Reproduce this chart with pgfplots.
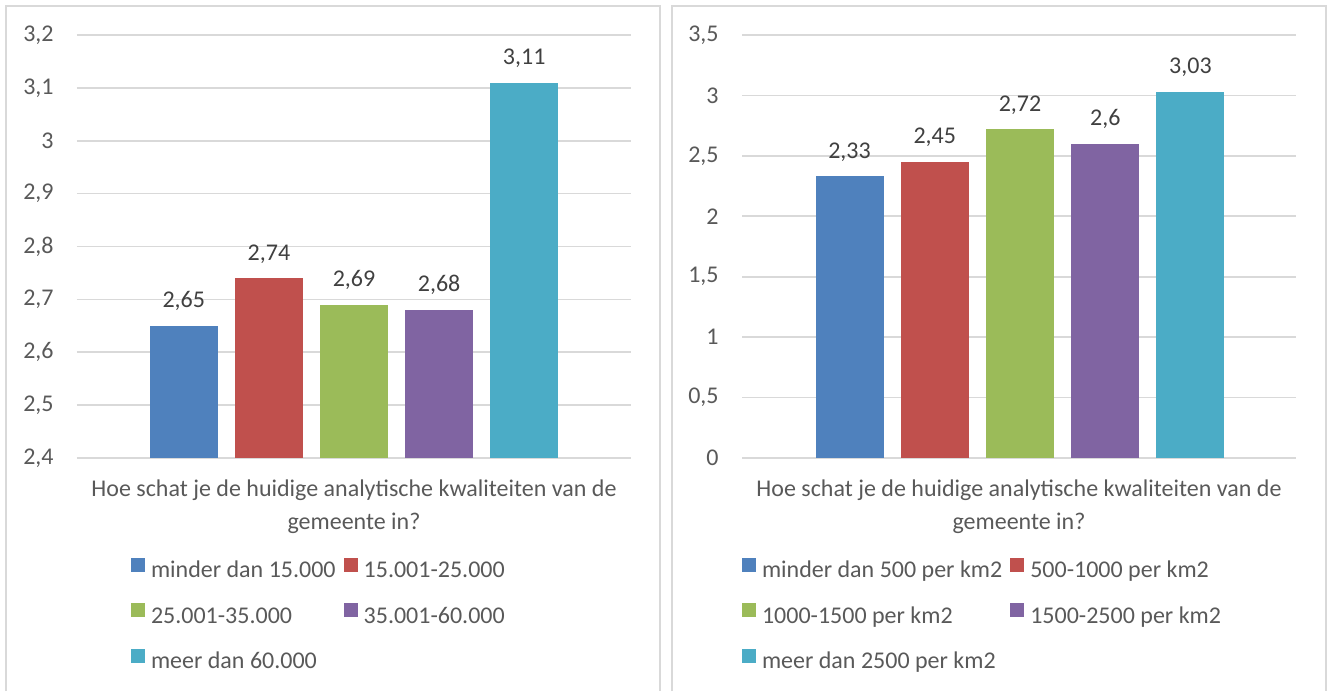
\documentclass[border=0pt]{standalone}
\usepackage{fontspec}
\setmainfont{Carlito}
\usepackage{pgfplots}
\pgfplotsset{compat=1.18}
\definecolor{c1}{HTML}{4F81BD}
\definecolor{c2}{HTML}{C0504D}
\definecolor{c3}{HTML}{9BBB59}
\definecolor{c4}{HTML}{8064A2}
\definecolor{c5}{HTML}{4BACC6}
\definecolor{gridc}{HTML}{D9D9D9}
\definecolor{tickc}{HTML}{595959}
\definecolor{labc}{HTML}{404040}
\pgfplotsset{
  sqlegend/.style={legend image code/.code={\fill[##1] (0pt,0pt) rectangle (7pt,7pt);}},
  barsty/.style={ybar, bar width=34pt, bar shift=0pt, draw=none, sqlegend},
  mybar/.style={
    scale only axis, width=277pt, height=211.5pt, anchor=south west,
    xtick=\empty,
    axis line style={draw=none}, major tick length=0pt,
    ymajorgrids, grid style={gridc, line width=0.8pt},
    /pgf/number format/assume math mode=true,
    /pgf/number format/use comma, /pgf/number format/1000 sep={},
    yticklabel style={font=\fontsize{12}{14}\selectfont, text=tickc, inner xsep=0pt, xshift=-11.5pt},
    xlabel style={at={(axis description cs:0.5,0)}, anchor=north, yshift=-10.85pt,
      align=center, font=\fontsize{12}{16.5}\selectfont, text=tickc, inner sep=0pt},
    legend columns=2, legend cell align=left,
    legend style={anchor=north west, draw=none, fill=none, inner sep=0pt, outer sep=0pt,
      font=\fontsize{12}{14}\selectfont, text=tickc, row sep=10.25pt,
      nodes={inner sep=0pt, text height=8.5pt, text depth=2.5pt},
      /tikz/every odd column/.append style={column sep=3pt},
      /tikz/every even column/.append style={column sep=4pt}},
    nodes near coords={\pgfmathprintnumber[fixed,precision=2,use comma]{\pgfplotspointmeta}},
    nodes near coords style={font=\fontsize{12}{14}\selectfont, text=labc, anchor=base, inner sep=0pt, yshift=9pt},
  }
}
\begin{document}
\begin{tikzpicture}
\useasboundingbox (0,0) rectangle (666.5pt,345.5pt);
\draw[gridc, line width=0.75pt] (3pt,0) -- (3pt,342.5pt) -- (330pt,342.5pt) -- (330pt,0);
\draw[gridc, line width=0.75pt] (336pt,0) -- (336pt,342.5pt) -- (663pt,342.5pt) -- (663pt,0);
\begin{axis}[mybar, at={(38.5pt,116.5pt)},
  xmin=-0.255, xmax=6.255, ymin=2.4, ymax=3.2, ytick distance=0.1,
  xlabel={Hoe schat je de huidige analytische kwaliteiten van de\\gemeente in?},
  legend style={at={(axis description cs:0.0975,-0.2353)}}]
\addplot[barsty, fill=c1] coordinates {(1,2.65)};
\addlegendentry{minder dan 15.000}
\addplot[barsty, fill=c2] coordinates {(2,2.74)};
\addlegendentry{15.001-25.000}
\addplot[barsty, fill=c3] coordinates {(3,2.69)};
\addlegendentry{25.001-35.000}
\addplot[barsty, fill=c4] coordinates {(4,2.68)};
\addlegendentry{35.001-60.000}
\addplot[barsty, fill=c5] coordinates {(5,3.11)};
\addlegendentry{meer dan 60.000}
\end{axis}
\begin{axis}[mybar, at={(371pt,116.5pt)},
  xmin=-0.261, xmax=6.238, ymin=0, ymax=3.5, ytick distance=0.5,
  xlabel={Hoe schat je de huidige analytische kwaliteiten van de\\gemeente in?},
  legend style={at={(axis description cs:0,-0.2353)}}]
\addplot[barsty, fill=c1] coordinates {(1,2.33)};
\addlegendentry{minder dan 500 per km2}
\addplot[barsty, fill=c2] coordinates {(2,2.45)};
\addlegendentry{500-1000 per km2}
\addplot[barsty, fill=c3] coordinates {(3,2.72)};
\addlegendentry{1000-1500 per km2}
\addplot[barsty, fill=c4] coordinates {(4,2.6)};
\addlegendentry{1500-2500 per km2}
\addplot[barsty, fill=c5] coordinates {(5,3.03)};
\addlegendentry{meer dan 2500 per km2}
\end{axis}
\end{tikzpicture}
\end{document}
